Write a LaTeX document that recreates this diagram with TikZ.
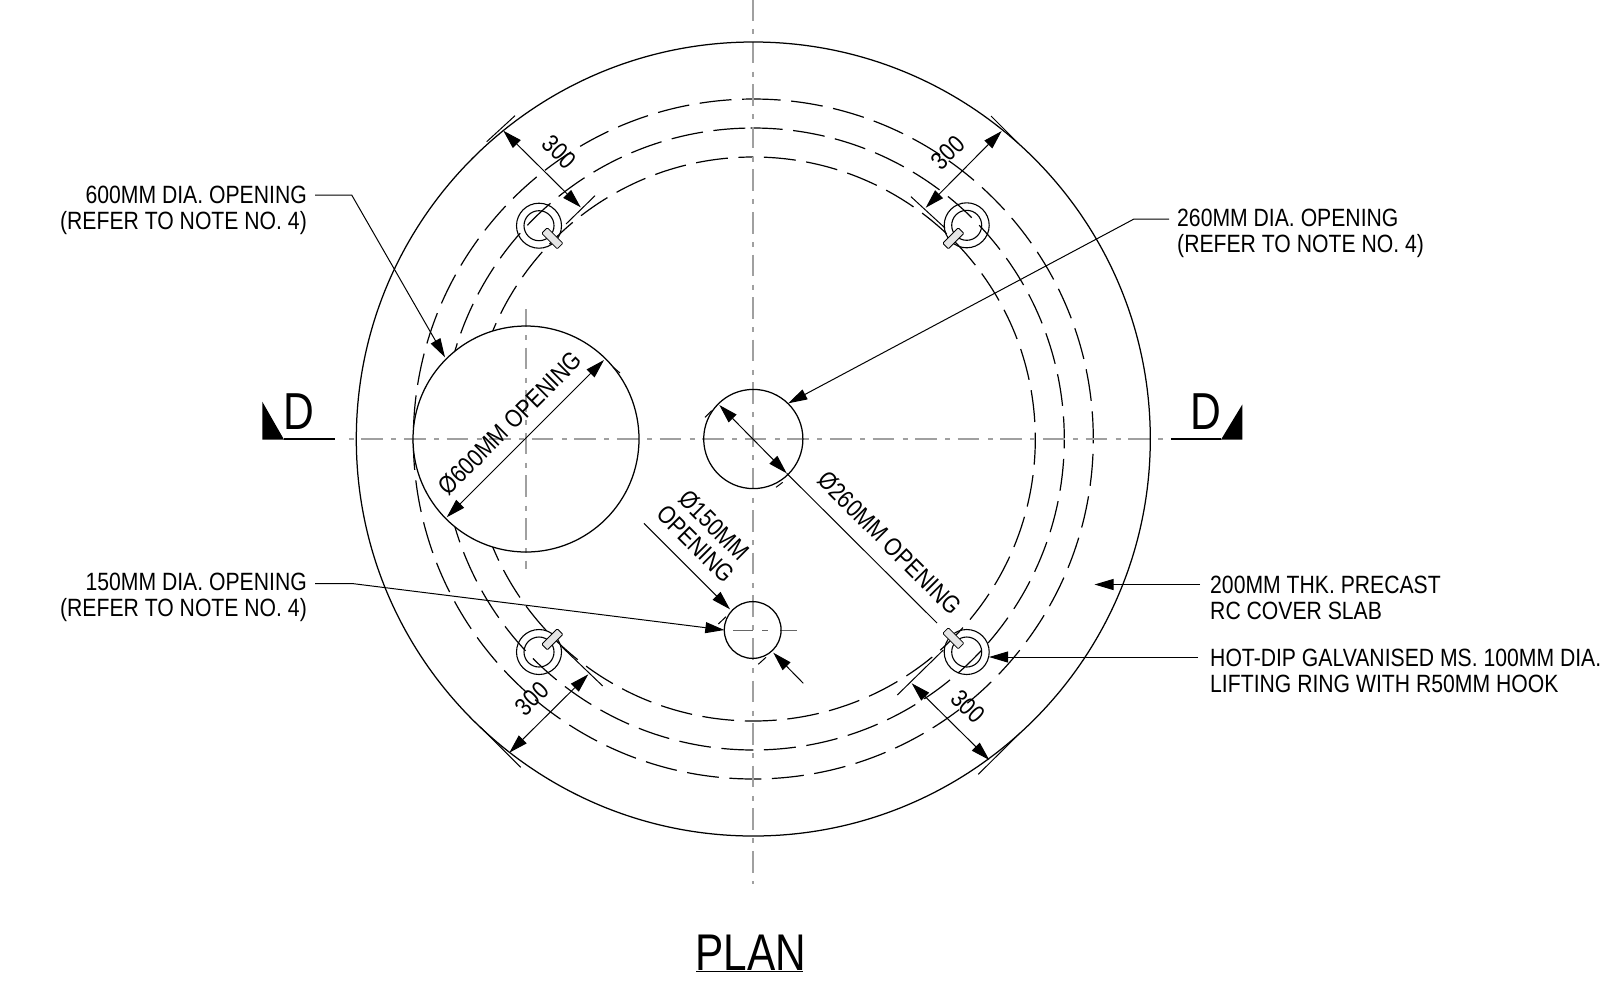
\documentclass[tikz,border=0pt]{standalone}
\usepackage{fontspec}
\usetikzlibrary{arrows.meta}
\setmainfont[FakeStretch=0.847]{Liberation Sans}
\newfontfamily\narrowfont[FakeStretch=0.82]{Liberation Sans}
\definecolor{cgray}{HTML}{A0A0A0}
\tikzset{
  x=1pt,y=-1pt,
  solidline/.style={black,line width=1.25pt},
  hidden/.style={black,line width=1.2pt,dash pattern=on 32pt off 10.6pt},
  centreline/.style={cgray,line width=1.7pt,dash pattern=on 21.6pt off 8.5pt on 5pt off 7.5pt},
  leader/.style={black,line width=1pt,-{Triangle[length=19pt,width=11pt]}},
  dimline/.style={black,line width=1pt,{Triangle[length=19pt,width=11pt]}-{Triangle[length=19pt,width=11pt]}},
  tick/.style={black,line width=1pt},
  note/.style={font=\fontsize{25}{26}\selectfont,inner sep=0pt},
  hookbox/.style={draw=black,line width=0.8pt,fill=black!10,minimum width=22pt,minimum height=8pt,inner sep=0pt,rounded corners=1pt},
  ring/.style={black,line width=1.1pt},
}
\begin{document}
\begin{tikzpicture}
\useasboundingbox (0,0) rectangle (1622,989);
% hidden circles
\draw[hidden] (753.3,439) ++(269.2:340) arc[start angle=269.2,delta angle=360,radius=340];
\draw[hidden] (753.3,439) ++(269.5:311) arc[start angle=269.5,delta angle=360,radius=311];
\draw[hidden,dash phase=32pt] (753.3,439) ++(270:282) arc[start angle=270,delta angle=360,radius=282];
% large opening masks the hidden circles
\fill[white] (526,439) circle[radius=113];
% centre lines
\draw[centreline,dash phase=1.1pt] (753.3,0) -- (753.3,884);
\draw[centreline,dash phase=28.3pt] (347,439) -- (1172,439);
\draw[centreline,dash phase=4pt] (526,309) -- (526,569);
\draw[black!60,line width=1pt,dash pattern=on 20pt off 9pt on 6pt off 12pt] (733,630) -- (797,630);
% section marks
\draw[black,line width=1.4pt] (284,439) -- (335,439);
\draw[black,line width=1.4pt] (1221,439) -- (1171,439);
\fill[black] (262.3,401.7) -- (262.3,439.6) -- (284,439.6) -- cycle;
\fill[black] (1242.3,404.5) -- (1242.3,439.6) -- (1221,439.6) -- cycle;
\node[font=\narrowfont\fontsize{52}{52}\selectfont,inner sep=0pt,anchor=base] (secL) at (298.5,429.3) {D};
\node[font=\narrowfont\fontsize{52}{52}\selectfont,inner sep=0pt,anchor=base] (secR) at (1205.5,429.3) {D};
% outlines
\draw[solidline] (753.3,439) circle[radius=397];
\draw[solidline] (526,439) circle[radius=113];
\draw[solidline] (753.3,439) circle[radius=49.6];
\draw[solidline] (752.7,630) circle[radius=28.4];
% lifting rings
\foreach \n/\cx/\cy/\hx/\hy/\rot in {a/539/225.7/552.3/238.3/-45,b/966.7/225.3/953.3/238.3/45,c/966.7/652/953.3/638.3/-45,d/539/652/552.3/639.3/45}{
  \draw[ring] (\cx,\cy) circle[radius=22.5];
  \draw[ring] (\cx,\cy) circle[radius=15];
  \node[hookbox,rotate=\rot] (hook\n) at (\hx,\hy) {};
}
% 300 dimensions
\coordinate (tla) at (503.3,130.7); \coordinate (tlb) at (580.7,207.3);
\coordinate (tra) at (1001.7,131);  \coordinate (trb) at (925.7,207.7);
\coordinate (bra) at (989.3,760);   \coordinate (brb) at (911.7,683.3);
\coordinate (bla) at (509.3,752.7); \coordinate (blb) at (588.3,674.3);
\draw[dimline] (tla) -- (tlb);
\draw[dimline] (tra) -- (trb);
\draw[dimline] (bra) -- (brb);
\draw[dimline] (bla) -- (blb);
\draw[tick] (486.7,141.7) -- (515,115.7);
\draw[tick] (566,224) -- (595,195.7);
\draw[tick] (991,116) -- (1018,143);
\draw[tick] (911,196.7) -- (945,228);
\draw[tick] (897.3,695) -- (943.3,650);
\draw[tick] (978.3,774.3) -- (1020,733);
\draw[tick] (561.7,646.7) -- (602.7,686);
\draw[tick] (480,726.7) -- (520.7,767.3);
\node[note,rotate=-45] (d1) at (559.5,152) {300};
\node[note,rotate=45] (d2) at (948,152.5) {300};
\node[note,rotate=-45] (d3) at (968,706.5) {300};
\node[note,rotate=45] (d4) at (532,698.5) {300};
% opening dimensions
\draw[dimline] (604,360) -- (446.7,517.3);
\node[note,rotate=45] (t600) at (510,423) {Ø600MM OPENING};
\coordinate (o260a) at (719.3,405); \coordinate (o260b) at (786.7,473.3); \coordinate (o260c) at (937,623);
\draw[dimline] (o260a) -- (o260b);
\draw[black,line width=1pt] (o260b) -- (o260c);
\node[note,rotate=-45] (t260) at (889.5,543) {Ø260MM OPENING};
\draw[tick] (705,417.3) -- (711.7,410.7);
\draw[tick] (776,487.3) -- (782.7,482.3);
\draw[leader] (644,523.3) -- (730,609.3);
\draw[leader] (803.3,683.3) -- (773.3,652.7);
\draw[tick] (718.3,624) -- (726,616.7);
\draw[tick] (758.3,664.3) -- (766,657.3);
\node[note,rotate=-45,align=center] (t150) at (705,534.5) {Ø150MM\\OPENING};
\draw[tick] (613,367) -- (620,373);
% notes and leaders
\node[note,align=right,anchor=east] (n600) at (307,210) {600MM DIA. OPENING\\(REFER TO NOTE NO. 4)};
\draw[leader] (315,195) -- (351.7,195) -- (445,357.3);
\node[note,align=right,anchor=east] (n150) at (307,597.4) {150MM DIA. OPENING\\(REFER TO NOTE NO. 4)};
\draw[leader] (315,583.5) -- (352,583.5) -- (724.3,630);
\node[note,align=left,anchor=west] (n260) at (1177,233.8) {260MM DIA. OPENING\\(REFER TO NOTE NO. 4)};
\draw[leader] (1169,219) -- (1134,219) -- (788.3,403.3);
\node[note,align=left,anchor=west] (n200) at (1210,597.5) {200MM THK. PRECAST\\RC COVER SLAB};
\draw[leader] (1200,584.5) -- (1094.5,584.5);
\node[note,align=left,anchor=west] (nhook) at (1210,670.5) {HOT-DIP GALVANISED MS. 100MM DIA.\\LIFTING RING WITH R50MM HOOK};
\draw[leader] (1198,657) -- (989,657);
% title
\node[font=\narrowfont\fontsize{51.6}{52}\selectfont,inner sep=0pt,anchor=base] (plan) at (751,970.7) {PLAN};
\draw[black,line width=1.3pt] (696,971.7) -- (803,971.7);
\end{tikzpicture}
\end{document}
